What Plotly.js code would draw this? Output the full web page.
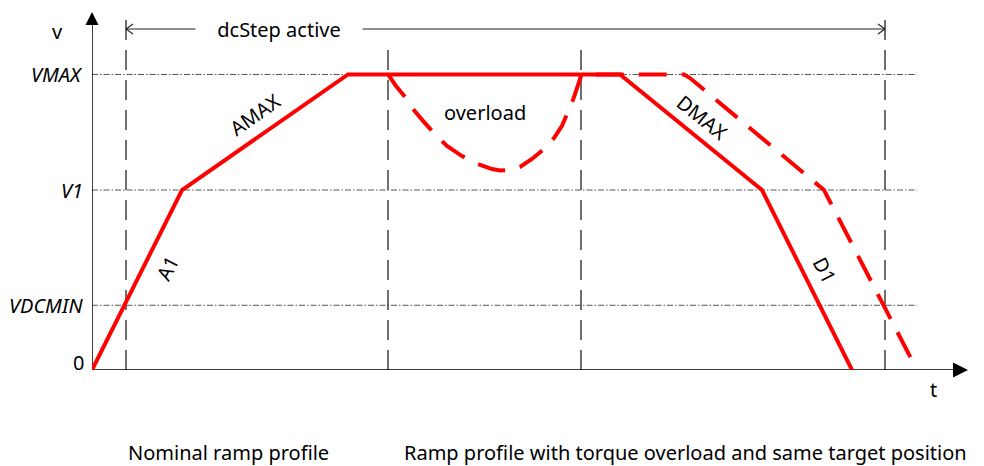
<!DOCTYPE html>
<html>
<head>
<meta charset="utf-8">
<script src="https://cdn.plot.ly/plotly-3.0.1.min.js"></script>
<style>html,body{margin:0;padding:0;background:#fff;}#chart{width:984px;height:466px;}</style>
</head>
<body>
<div id="chart"></div>
<script>
// ---- data (t in arbitrary time units, v in % of VMAX) ----
const levelNames = ['VDCMIN', 'V1', 'VMAX'];
const levelValues = [21.9, 60.9, 100];
const levelLineEnd = 825;

const nominalT = [0, 90, 256, 528, 670, 760];
const nominalV = [0, 60.9, 100, 100, 60.9, 0];

const overloadT = [296, 299, 304, 313, 321, 331, 341, 355, 370, 386, 400, 408, 418, 428, 440, 452, 462, 470, 476, 481, 485, 488, 489.5, 592, 598, 732, 825];
const overloadV = [100, 98.5, 96.1, 92.4, 88.3, 84.3, 80.5, 75.8, 72.4, 69.7, 68.0, 67.5, 67.7, 68.7, 71.4, 74.8, 78.5, 82.6, 87.0, 91.4, 95.4, 98.5, 100, 100, 98.8, 60.9, 0];

const markerT = [34, 296, 489, 793];
const markerTop = [121.8, 111.7, 111.7, 121.8];
const dcStepWindow = [34, 793];
const dcStepLevel = 115.4;
const dcStepLabel = 'dcStep active';

const curveLabels = ['AMAX', 'A1', 'DMAX', 'D1', 'overload'];
const curveLabelT = [163, 75, 610, 733, 393];
const curveLabelV = [86.5, 34.5, 85.3, 33.8, 87];
const curveLabelAngle = [-35, -63, 39, 63, 0];

const legendNames = ['Nominal ramp profile', 'Ramp profile with torque overload and same target position'];
const legendT = [34, 310];

const xMax = 876, yMax = 125.2, yTip = 121.1;

// ---- build ----
const FONT = 'Noto Sans, Open Sans, sans-serif';
const FS = 20;
const traces = [];

// reference level lines (dash-dot)
levelValues.forEach(v => {
  traces.push({x: [0, levelLineEnd], y: [v, v], mode: 'lines', cliponaxis: false,
    line: {color: '#555', width: 1, dash: '6px,2px,1.5px,2px'}, hoverinfo: 'skip', showlegend: false});
});

// phase marker lines (dashed verticals)
markerT.forEach((t, i) => {
  traces.push({x: [t, t], y: [0, markerTop[i]], mode: 'lines', cliponaxis: false,
    line: {color: '#333', width: 1.4, dash: '20px,10px'}, hoverinfo: 'skip', showlegend: false});
});

// dcStep active arrow
const pxPerT = 1, pxPerV = 370 / yMax;
const chevW = 7 / pxPerT, chevH = 5 / pxPerV;
traces.push({
  x: [dcStepWindow[0], dcStepWindow[1], null,
      dcStepWindow[0] + chevW, dcStepWindow[0], dcStepWindow[0] + chevW, null,
      dcStepWindow[1] - chevW, dcStepWindow[1], dcStepWindow[1] - chevW],
  y: [dcStepLevel, dcStepLevel, null,
      dcStepLevel + chevH, dcStepLevel, dcStepLevel - chevH, null,
      dcStepLevel + chevH, dcStepLevel, dcStepLevel - chevH],
  mode: 'lines', cliponaxis: false, line: {color: '#222', width: 1.1},
  hoverinfo: 'skip', showlegend: false
});

// axes
traces.push({x: [0, xMax - 14], y: [0, 0], mode: 'lines', cliponaxis: false,
  line: {color: '#000', width: 1.5}, hoverinfo: 'skip', showlegend: false});
traces.push({x: [0, 0], y: [0, yTip - 12 / pxPerV], mode: 'lines', cliponaxis: false,
  line: {color: '#000', width: 1.5}, hoverinfo: 'skip', showlegend: false});
traces.push({x: [xMax], y: [0], mode: 'markers', cliponaxis: false,
  marker: {symbol: 'arrow-right', size: 15, color: '#000', line: {width: 0}}, hoverinfo: 'skip', showlegend: false});
traces.push({x: [0], y: [yTip], mode: 'markers', cliponaxis: false,
  marker: {symbol: 'arrow-up', size: 13, color: '#000', line: {width: 0}}, hoverinfo: 'skip', showlegend: false});

// overload profile (dashed)
traces.push({x: overloadT, y: overloadV, mode: 'lines', cliponaxis: false, name: legendNames[1],
  line: {color: '#ff0000', width: 4, dash: '28px,15px'}, showlegend: false});
// nominal profile (solid)
traces.push({x: nominalT, y: nominalV, mode: 'lines', cliponaxis: false, name: legendNames[0],
  line: {color: '#ff0000', width: 4}, showlegend: false});

const annotations = [];
// level labels
levelNames.forEach((n, i) => {
  annotations.push({xref: 'paper', yref: 'y', x: 0, y: levelValues[i], xanchor: 'right', yanchor: 'middle',
    xshift: -7, text: '<i>' + n + '</i>', showarrow: false, font: {family: FONT, size: FS, color: '#000'}});
});
annotations.push({xref: 'paper', yref: 'y', x: 0, y: 0, xanchor: 'right', yanchor: 'middle',
  xshift: -6, yshift: 8, text: '0', showarrow: false, font: {family: FONT, size: FS, color: '#000'}});
annotations.push({xref: 'paper', yref: 'y', x: 0, y: 114.4, xanchor: 'center', yanchor: 'middle',
  xshift: -35, text: 'v', showarrow: false, font: {family: FONT, size: FS, color: '#000'}});
annotations.push({xref: 'x', yref: 'paper', x: 841, y: 0, xanchor: 'center', yanchor: 'middle',
  yshift: -19, text: 't', showarrow: false, font: {family: FONT, size: FS, color: '#000'}});
// dcStep label
annotations.push({xref: 'x', yref: 'y', x: 187, y: dcStepLevel,
  text: dcStepLabel, showarrow: false, bgcolor: '#fff', width: 166, borderpad: 0, yshift: -1,
  font: {family: FONT, size: FS, color: '#000'}});
// curve labels
curveLabels.forEach((n, i) => {
  annotations.push({xref: 'x', yref: 'y', x: curveLabelT[i], y: curveLabelV[i], text: n, showarrow: false,
    textangle: curveLabelAngle[i], font: {family: FONT, size: FS, color: '#000'}});
});
// legend texts
legendNames.forEach((n, i) => {
  annotations.push({xref: 'x', yref: 'paper', x: legendT[i], y: 0, xanchor: 'left', yanchor: 'middle',
    yshift: -82, text: n, showarrow: false, font: {family: FONT, size: FS, color: '#000'}});
});

const layout = {
  width: 984, height: 466,
  margin: {l: 92, r: 16, t: 0, b: 96},
  paper_bgcolor: '#fff', plot_bgcolor: '#fff',
  xaxis: {range: [0, xMax], visible: false, fixedrange: true},
  yaxis: {range: [0, yMax], visible: false, fixedrange: true},
  showlegend: false,
  annotations: annotations
};

Plotly.newPlot('chart', traces, layout, {displayModeBar: false, staticPlot: true});
</script>
</body>
</html>
